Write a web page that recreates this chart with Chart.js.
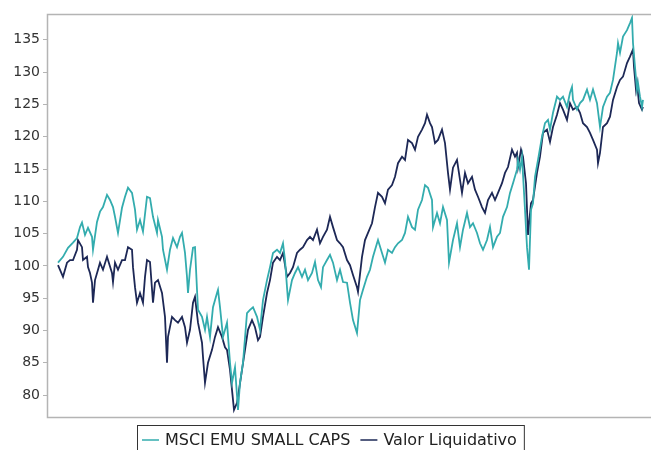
<!DOCTYPE html>
<html>
<head>
<meta charset="utf-8">
<script src="https://cdn.jsdelivr.net/npm/chart.js@4.4.1/dist/chart.umd.min.js"></script>
<style>
html,body{margin:0;padding:0;background:#fff;}
#wrap{width:651px;height:450px;position:relative;}
</style>
</head>
<body>
<div id="wrap"><canvas id="c" width="651" height="450"></canvas></div>
<script>
// ---- data ----
const seriesNames = ["MSCI EMU SMALL CAPS", "Valor Liquidativo"];
const yTicks = [80, 85, 90, 95, 100, 105, 110, 115, 120, 125, 130, 135];

const msciDays = [
0,5,10,15,19,22,24,27,30,34,
35,39,42,45,49,52,55,57,60,64,
67,70,74,77,79,82,85,89,92,95,
99,100,104,105,109,112,115,119,122,124,
127,129,130,132,135,137,139,140,144,147,
149,152,155,159,160,162,165,169,172,174,
177,180,182,185,189,192,195,199,202,205,
209,212,215,219,222,225,227,229,230,234,
237,240,244,247,250,254,257,260,263,265,
269,272,275,279,282,285,289,292,295,299,
302,305,309,312,315,319,320,324,327,330,
334,337,340,344,347,350,354,357,360,364,
367,370,374,375,379,382,385,389,391,395,
399,402,405,409,412,415,419,422,425,429,
432,435,439,442,445,449,452,455,459,460,
462,464,467,469,471,473,475,477,480,484,
487,490,492,495,499,502,505,509,512,514,
515,519,522,525,529,532,535,539,542,545,
549,552,555,559,560,562,565,569,572,574,
575,577,579,580,582,584,585];
const msciValues = [
100.5,101.4,102.8,103.6,104.3,106.0,106.7,104.8,105.9,104.5,
102.5,106.8,108.4,109.1,111.0,110.2,109.1,107.6,105.1,109.0,
110.7,112.1,111.3,108.7,105.6,107.1,105.3,110.7,110.5,107.6,
105.1,107.1,104.5,102.5,99.4,102.5,104.3,102.9,104.5,105.1,
102.0,98.3,95.8,99.4,102.8,102.9,96.3,93.2,92.1,90.1,
92.1,89.0,93.6,95.8,96.3,93.6,89.0,91.2,85.0,81.9,
84.3,77.7,81.9,85.0,92.7,93.2,93.6,92.1,90.1,94.7,
97.8,99.8,102.0,102.5,102.0,103.5,100.9,96.7,94.7,97.8,
98.9,99.8,98.3,99.4,97.8,98.9,100.6,97.8,96.7,99.8,
100.9,101.7,100.5,97.8,99.4,97.5,97.4,94.3,91.6,89.6,
94.7,96.3,98.3,99.4,101.4,103.5,104.0,102.0,100.5,102.5,
102.0,102.9,103.5,104.0,105.1,107.6,106.0,105.6,108.7,110.2,
112.5,112.1,110.2,106.0,108.2,106.6,109.1,107.1,100.5,104.0,
106.6,102.9,105.6,108.2,106.0,106.6,105.1,103.5,102.5,104.0,
106.0,102.9,104.5,105.1,107.6,109.1,111.3,112.8,114.9,116.4,
114.9,116.9,108.7,102.9,99.4,108.7,109.7,113.8,116.4,120.0,
122.1,122.6,121.1,123.7,126.2,125.7,126.2,124.6,126.8,127.7,
125.7,124.2,125.2,125.7,127.3,125.7,127.3,125.2,121.5,124.6,
126.2,126.8,128.8,133.0,134.5,133.0,135.5,136.5,137.6,138.4,
134.5,130.8,127.3,128.3,126.2,124.6,125.7];

const vlDays = [
0,5,9,12,15,19,20,24,25,29,
30,32,34,35,37,40,42,45,49,50,
54,55,57,60,64,67,70,74,75,77,
79,82,85,87,89,92,95,97,100,104,
107,109,110,114,117,120,124,127,129,132,
135,137,140,144,145,147,150,154,157,160,
164,167,169,172,174,176,179,180,184,187,
190,194,197,200,202,205,209,212,215,219,
222,225,229,232,235,239,242,245,249,252,
255,259,262,265,269,272,275,279,282,285,
289,292,295,299,300,304,307,310,314,317,
320,324,327,330,334,337,340,344,347,350,
354,357,360,364,367,369,372,374,377,380,
384,387,390,392,395,399,402,404,407,410,
414,417,420,424,427,430,434,437,440,444,
447,450,454,457,459,460,463,465,468,470,
473,475,479,482,485,489,492,495,499,502,
505,509,512,515,519,522,525,529,532,535,
539,540,542,545,549,552,555,559,562,565,
569,572,575,576,578,579,581,584,585];
const vlValues = [
100.1,98.3,100.5,100.9,100.9,102.5,104.0,102.9,100.9,101.4,
99.8,98.9,97.4,94.3,97.8,99.4,100.5,99.4,101.4,100.9,
98.9,97.5,100.5,99.4,100.9,100.9,102.9,102.5,99.8,96.7,
94.3,95.8,94.3,98.3,100.9,100.6,94.3,97.4,97.8,95.8,
92.1,85.0,89.0,92.1,91.6,91.2,92.1,90.5,88.1,90.1,
94.3,95.2,91.2,88.1,85.9,81.9,85.0,87.0,89.0,90.5,
89.0,87.4,87.0,83.9,80.8,77.7,78.8,79.7,83.9,87.0,
90.1,91.6,90.5,88.5,89.0,92.1,95.8,97.8,100.5,101.4,
100.9,102.0,98.3,98.9,99.8,102.0,102.5,102.9,104.0,104.5,
104.0,105.6,103.5,104.5,105.6,107.6,106.0,104.0,103.5,102.9,
100.9,100.1,98.6,96.7,96.0,101.4,104.0,105.1,106.6,109.1,
111.3,110.7,109.7,111.8,112.5,113.8,115.9,116.9,116.4,119.5,
119.0,118.0,120.0,121.1,122.1,123.4,122.1,121.5,119.0,119.5,
121.1,119.0,114.4,111.8,115.2,116.4,113.3,111.3,114.4,112.8,
113.8,111.8,110.7,109.1,108.2,110.2,111.3,110.2,111.3,112.8,
114.4,115.3,118.0,116.9,117.5,115.3,118.0,116.9,112.8,104.8,
109.7,110.2,114.4,116.9,120.6,121.1,119.2,121.5,123.4,125.2,
124.2,122.6,125.2,124.2,124.6,123.7,122.1,121.5,120.6,119.5,
118.0,115.9,117.5,121.5,122.1,123.1,125.7,127.7,128.8,129.3,
131.4,132.4,133.5,130.8,127.3,128.3,125.2,124.2,124.6];

// ---- styles ----
const tealColor = "#33acae";
const navyColor = "#1d2856";

function pairs(xs, ys){ return xs.map((x,i)=>({x:x, y:ys[i]})); }

const framePlugin = {
  id: "frame",
  afterDraw(chart){
    const {ctx, chartArea:a} = chart;
    ctx.save();
    ctx.strokeStyle = "#b4b4b4";
    ctx.lineWidth = 1.5;
    ctx.beginPath();
    ctx.moveTo(a.right + 2, a.top + 0.5);
    ctx.lineTo(a.left + 0.5, a.top + 0.5);
    ctx.lineTo(a.left + 0.5, a.bottom + 0.5);
    ctx.lineTo(a.right + 2, a.bottom + 0.5);
    ctx.stroke();
    ctx.restore();
  }
};

const legendPlugin = {
  id: "boxLegend",
  afterDraw(chart){
    const ctx = chart.ctx;
    ctx.save();
    ctx.font = '16px "DejaVu Sans"';
    ctx.textBaseline = "middle";
    const ds = chart.data.datasets;
    const lineW = 17, gapL = 6, gapItem = 10, padL = 5, padR = 7;
    let total = padL;
    ds.forEach((d,i)=>{ total += lineW + gapL + ctx.measureText(d.label).width + (i < ds.length-1 ? gapItem : 0); });
    total += padR;
    const boxL = 137, boxT = 425, boxH = 30;
    const cy = 440;
    let x = boxL + padL;
    ds.forEach((d)=>{
      ctx.strokeStyle = d.borderColor;
      ctx.lineWidth = 1.5;
      ctx.beginPath(); ctx.moveTo(x, cy); ctx.lineTo(x + lineW, cy); ctx.stroke();
      x += lineW + gapL;
      ctx.fillStyle = "#222";
      ctx.fillText(d.label, x, cy + 1);
      x += ctx.measureText(d.label).width + gapItem;
    });
    ctx.strokeStyle = "#333";
    ctx.lineWidth = 1;
    ctx.strokeRect(boxL + 0.5, boxT + 0.5, total, boxH);
    ctx.restore();
  }
};

new Chart(document.getElementById("c"), {
  type: "line",
  data: {
    datasets: [
      { label: seriesNames[0], data: pairs(msciDays, msciValues), borderColor: tealColor, backgroundColor: tealColor, borderWidth: 1.8, pointRadius: 0, tension: 0, fill: false },
      { label: seriesNames[1], data: pairs(vlDays, vlValues), borderColor: navyColor, backgroundColor: navyColor, borderWidth: 1.8, pointRadius: 0, tension: 0, fill: false }
    ]
  },
  options: {
    responsive: false,
    animation: false,
    layout: { padding: { top: 14, bottom: 33, left: 0, right: 0 } },
    plugins: { legend: { display: false }, title: { display: false }, tooltip: { enabled: false } },
    scales: {
      x: { type: "linear", display: false, min: -11, max: 593 },
      y: {
        min: 76.6, max: 139,
        afterFit(scale){ scale.width = 47; },
        afterBuildTicks(scale){ scale.ticks = yTicks.map(v => ({value: v})); },
        border: { display: false },
        grid: { drawOnChartArea: false, drawTicks: true, tickLength: 4, color: "#b4b4b4" },
        ticks: { color: "#333", font: { family: "DejaVu Sans", size: 14 }, padding: 3, includeBounds: false }
      }
    }
  },
  plugins: [framePlugin, legendPlugin]
});
</script>
</body>
</html>
